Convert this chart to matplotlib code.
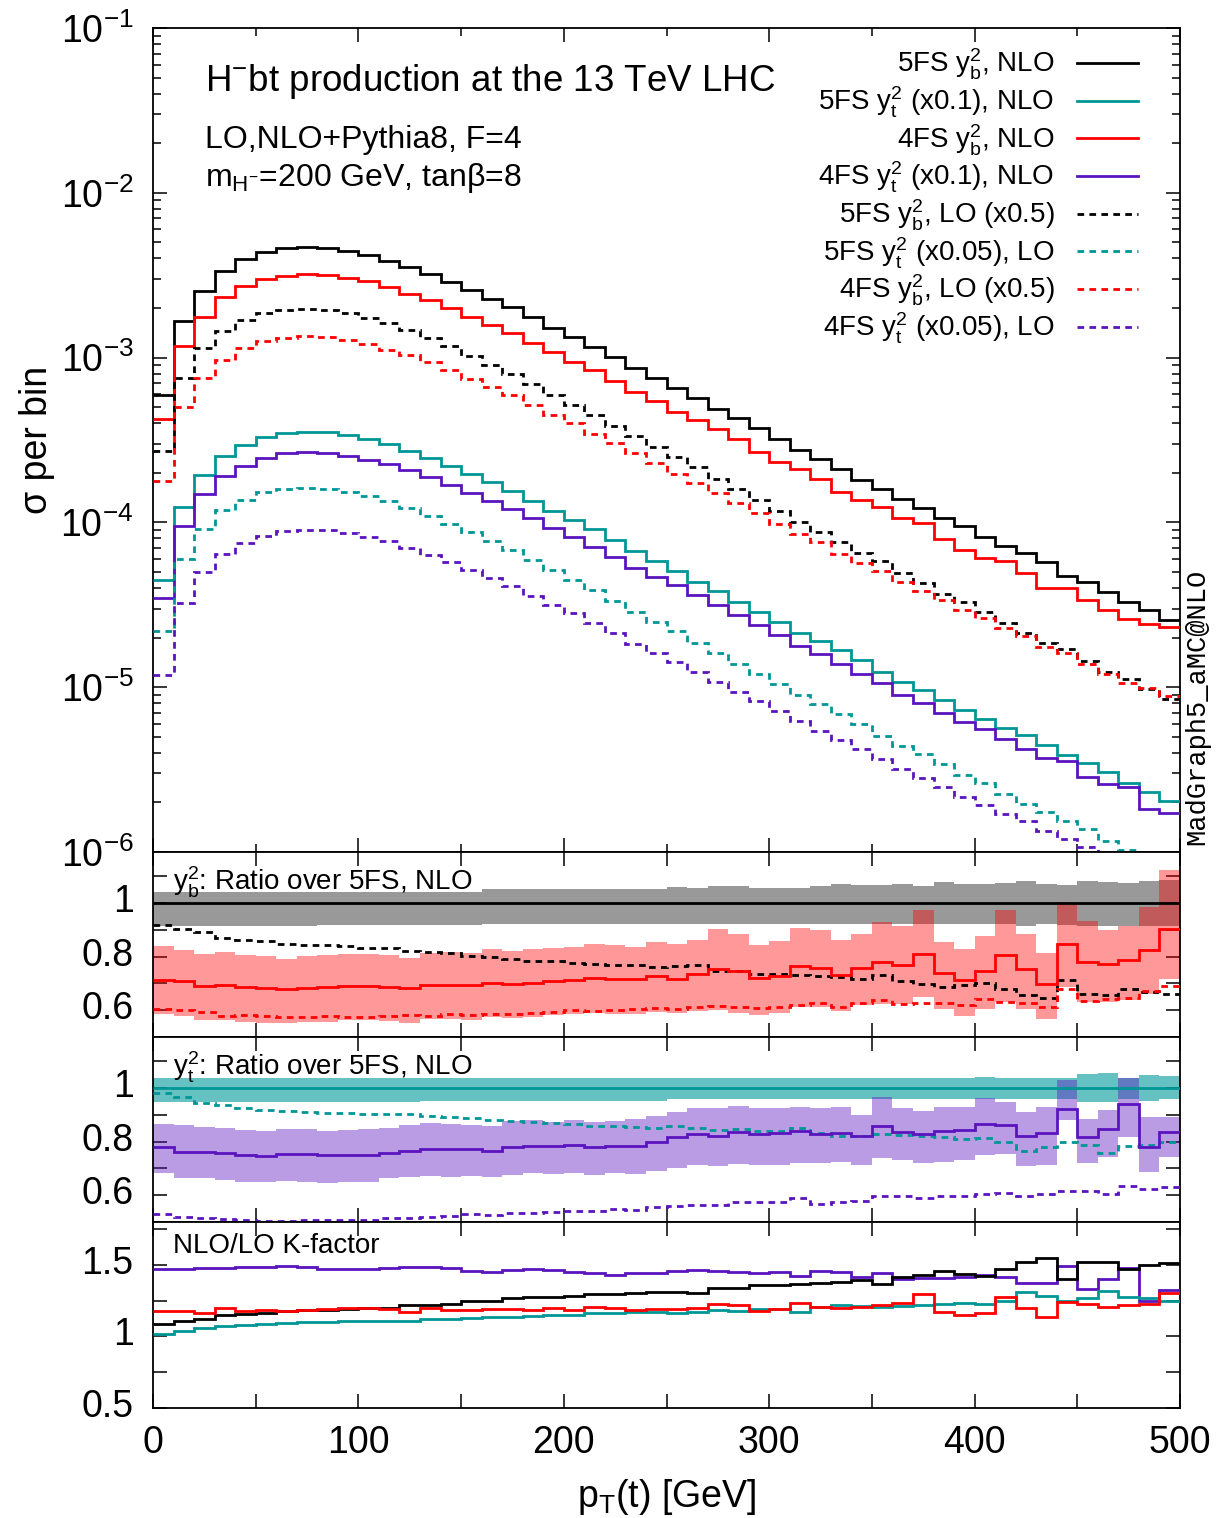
import numpy as np
import matplotlib
matplotlib.use("Agg")
import matplotlib.pyplot as plt
import matplotlib.transforms as mtransforms
from matplotlib.lines import Line2D
from matplotlib.ticker import FixedLocator, FixedFormatter, FuncFormatter, LogLocator, NullFormatter

plt.rcParams['font.family'] = ['Liberation Sans', 'DejaVu Sans']
plt.rcParams['mathtext.fontset'] = 'custom'
plt.rcParams['mathtext.rm'] = 'Liberation Sans'
plt.rcParams['mathtext.it'] = 'Liberation Sans:italic'
plt.rcParams['mathtext.bf'] = 'Liberation Sans:bold'
plt.rcParams['mathtext.sf'] = 'Liberation Sans'

# ---------------- data ----------------
bin_edges = np.arange(0, 510, 10)

# 5FS y_b^2 NLO cross section per bin
nlo_5fs_yb = np.array([
    5.93e-4, 1.67e-3, 2.55e-3, 3.35e-3, 3.94e-3, 4.37e-3, 4.60e-3, 4.69e-3, 4.60e-3, 4.44e-3,
    4.20e-3, 3.88e-3, 3.56e-3, 3.23e-3, 2.88e-3, 2.56e-3, 2.26e-3, 2.02e-3, 1.76e-3, 1.52e-3,
    1.33e-3, 1.16e-3, 1.005e-3, 8.69e-4, 7.52e-4, 6.51e-4, 5.66e-4, 4.90e-4, 4.28e-4, 3.74e-4,
    3.19e-4, 2.75e-4, 2.41e-4, 2.10e-4, 1.81e-4, 1.59e-4, 1.39e-4, 1.22e-4, 1.07e-4, 9.51e-5,
    8.15e-5, 7.22e-5, 6.49e-5, 5.72e-5, 4.75e-5, 4.35e-5, 3.78e-5, 3.29e-5, 2.94e-5, 2.56e-5])

# 5FS y_t^2 NLO cross section per bin (unscaled)
nlo_5fs_yt = np.array([
    4.47e-4, 1.245e-3, 1.94e-3, 2.53e-3, 2.95e-3, 3.31e-3, 3.50e-3, 3.55e-3, 3.52e-3, 3.39e-3,
    3.19e-3, 2.99e-3, 2.71e-3, 2.45e-3, 2.20e-3, 1.96e-3, 1.75e-3, 1.55e-3, 1.35e-3, 1.18e-3,
    1.035e-3, 9.08e-4, 7.82e-4, 6.73e-4, 5.83e-4, 5.09e-4, 4.36e-4, 3.83e-4, 3.27e-4, 2.87e-4,
    2.50e-4, 2.12e-4, 1.91e-4, 1.67e-4, 1.46e-4, 1.23e-4, 1.07e-4, 9.62e-5, 8.36e-5, 7.27e-5,
    6.41e-5, 5.63e-5, 5.13e-5, 4.46e-5, 3.88e-5, 3.49e-5, 3.07e-5, 2.63e-5, 2.32e-5, 2.05e-5])

# 4FS / 5FS ratios at NLO
ratio_4fs_yb = np.array([
    0.712, 0.708, 0.690, 0.695, 0.687, 0.684, 0.678, 0.683, 0.687, 0.689,
    0.690, 0.688, 0.682, 0.694, 0.694, 0.693, 0.701, 0.698, 0.701, 0.709,
    0.712, 0.720, 0.718, 0.715, 0.726, 0.718, 0.734, 0.755, 0.746, 0.720,
    0.728, 0.763, 0.759, 0.733, 0.759, 0.781, 0.770, 0.810, 0.738, 0.713,
    0.748, 0.806, 0.755, 0.697, 0.846, 0.778, 0.774, 0.786, 0.823, 0.901])
ratio_4fs_yt = np.array([
    0.781, 0.762, 0.762, 0.756, 0.750, 0.747, 0.754, 0.754, 0.749, 0.749,
    0.749, 0.759, 0.766, 0.771, 0.771, 0.771, 0.766, 0.779, 0.784, 0.784,
    0.787, 0.780, 0.785, 0.785, 0.800, 0.816, 0.828, 0.822, 0.835, 0.827,
    0.833, 0.841, 0.828, 0.833, 0.821, 0.858, 0.836, 0.828, 0.839, 0.843,
    0.866, 0.862, 0.822, 0.831, 0.922, 0.818, 0.846, 0.939, 0.781, 0.837])

# NLO/LO K-factors
kfac_5fs_yb = np.array([
    1.088, 1.109, 1.121, 1.149, 1.158, 1.167, 1.179, 1.184, 1.188, 1.193,
    1.200, 1.202, 1.218, 1.223, 1.230, 1.246, 1.251, 1.267, 1.274, 1.279,
    1.286, 1.297, 1.300, 1.304, 1.311, 1.310, 1.302, 1.337, 1.337, 1.360,
    1.360, 1.367, 1.376, 1.383, 1.395, 1.367, 1.414, 1.430, 1.458, 1.439,
    1.423, 1.469, 1.523, 1.551, 1.400, 1.518, 1.523, 1.472, 1.500, 1.516])
kfac_5fs_yt = np.array([
    1.019, 1.035, 1.058, 1.070, 1.079, 1.088, 1.095, 1.100, 1.102, 1.105,
    1.107, 1.109, 1.109, 1.119, 1.121, 1.126, 1.135, 1.139, 1.144, 1.149,
    1.153, 1.167, 1.167, 1.172, 1.174, 1.167, 1.174, 1.186, 1.179, 1.191,
    1.191, 1.174, 1.204, 1.221, 1.216, 1.209, 1.214, 1.221, 1.225, 1.237,
    1.228, 1.251, 1.309, 1.283, 1.251, 1.272, 1.318, 1.274, 1.272, 1.251])
kfac_4fs_yb = np.array([
    1.177, 1.177, 1.163, 1.202, 1.181, 1.186, 1.181, 1.186, 1.191, 1.198,
    1.198, 1.193, 1.170, 1.200, 1.186, 1.188, 1.195, 1.193, 1.188, 1.198,
    1.186, 1.207, 1.198, 1.186, 1.191, 1.191, 1.198, 1.225, 1.218, 1.181,
    1.191, 1.232, 1.209, 1.198, 1.209, 1.221, 1.235, 1.295, 1.174, 1.151,
    1.167, 1.279, 1.202, 1.139, 1.244, 1.225, 1.209, 1.221, 1.228, 1.307])
kfac_4fs_yt = np.array([
    1.472, 1.472, 1.476, 1.481, 1.483, 1.488, 1.495, 1.488, 1.474, 1.472,
    1.474, 1.479, 1.483, 1.488, 1.476, 1.460, 1.451, 1.462, 1.472, 1.462,
    1.453, 1.441, 1.432, 1.441, 1.441, 1.460, 1.465, 1.458, 1.453, 1.441,
    1.448, 1.423, 1.458, 1.448, 1.418, 1.441, 1.400, 1.407, 1.407, 1.414,
    1.430, 1.418, 1.376, 1.376, 1.495, 1.332, 1.402, 1.481, 1.251, 1.325])

# scale-uncertainty bands, normalised to the 5FS NLO central value
band_5fs_yb_hi = np.array([1.040] * 16 + [1.053] * 9 + [
    1.060, 1.057, 1.062, 1.062, 1.057, 1.057, 1.054, 1.062, 1.072, 1.066,
    1.066, 1.070, 1.062, 1.078, 1.072, 1.072, 1.075, 1.082, 1.069, 1.066,
    1.082, 1.078, 1.076, 1.082, 1.085])
band_5fs_yb_lo = np.array([0.913] * 8 + [0.917] * 8 + [0.920] * 9 + [
    0.923, 0.923, 0.923, 0.923, 0.923, 0.923, 0.923, 0.923, 0.920, 0.923,
    0.923, 0.923, 0.923, 0.923, 0.923, 0.923, 0.923, 0.913, 0.920, 0.917,
    0.913, 0.913, 0.913, 0.913, 0.913])
band_4fs_yb_hi = np.array([
    0.838, 0.826, 0.809, 0.817, 0.807, 0.803, 0.792, 0.802, 0.807, 0.810,
    0.811, 0.807, 0.796, 0.815, 0.817, 0.813, 0.827, 0.821, 0.827, 0.831,
    0.836, 0.848, 0.843, 0.836, 0.855, 0.848, 0.863, 0.902, 0.883, 0.845,
    0.857, 0.908, 0.898, 0.861, 0.883, 0.929, 0.913, 0.973, 0.855, 0.830,
    0.876, 0.975, 0.883, 0.814, 1.004, 0.932, 0.898, 0.914, 0.985, 1.122])
band_4fs_yb_lo = np.array([
    0.585, 0.578, 0.565, 0.565, 0.556, 0.554, 0.554, 0.556, 0.557, 0.562,
    0.565, 0.559, 0.552, 0.569, 0.569, 0.565, 0.575, 0.570, 0.575, 0.581,
    0.584, 0.588, 0.587, 0.587, 0.593, 0.590, 0.596, 0.602, 0.590, 0.581,
    0.590, 0.612, 0.612, 0.597, 0.618, 0.624, 0.624, 0.649, 0.606, 0.578,
    0.606, 0.631, 0.605, 0.567, 0.687, 0.631, 0.631, 0.637, 0.662, 0.718])
band_5fs_yt_hi = np.array([1.036] * 40 + [1.040, 1.036, 1.036, 1.036, 1.036,
                                          1.052, 1.055, 1.038, 1.048, 1.045])
band_5fs_yt_lo = np.array([0.947] * 13 + [0.952] * 12 + [0.960] * 20 + [
    0.949, 0.949, 0.960, 0.953, 0.960])
band_4fs_yt_hi = np.array([
    0.866, 0.861, 0.853, 0.849, 0.843, 0.841, 0.847, 0.846, 0.841, 0.843,
    0.846, 0.852, 0.862, 0.868, 0.866, 0.862, 0.858, 0.878, 0.881, 0.874,
    0.881, 0.874, 0.878, 0.883, 0.895, 0.909, 0.924, 0.924, 0.933, 0.924,
    0.927, 0.930, 0.927, 0.930, 0.899, 0.968, 0.924, 0.914, 0.930, 0.930,
    0.961, 0.949, 0.909, 0.930, 1.030, 0.883, 0.918, 1.038, 0.893, 0.893])
band_4fs_yt_lo = np.array([
    0.684, 0.665, 0.663, 0.657, 0.650, 0.650, 0.653, 0.649, 0.647, 0.650,
    0.650, 0.663, 0.669, 0.671, 0.669, 0.671, 0.669, 0.675, 0.682, 0.679,
    0.684, 0.675, 0.682, 0.679, 0.690, 0.700, 0.713, 0.709, 0.715, 0.713,
    0.713, 0.721, 0.721, 0.725, 0.713, 0.738, 0.731, 0.721, 0.725, 0.731,
    0.750, 0.754, 0.710, 0.713, 0.880, 0.719, 0.741, 0.816, 0.688, 0.744])

legend_labels = [
    r'5FS y$_\mathrm{b}^2$, NLO',
    r'5FS y$_\mathrm{t}^2$ (x0.1), NLO',
    r'4FS y$_\mathrm{b}^2$, NLO',
    r'4FS y$_\mathrm{t}^2$ (x0.1), NLO',
    r'5FS y$_\mathrm{b}^2$, LO (x0.5)',
    r'5FS y$_\mathrm{t}^2$ (x0.05), LO',
    r'4FS y$_\mathrm{b}^2$, LO (x0.5)',
    r'4FS y$_\mathrm{t}^2$ (x0.05), LO',
]

# derived quantities
nlo_4fs_yb = nlo_5fs_yb * ratio_4fs_yb
nlo_4fs_yt = nlo_5fs_yt * ratio_4fs_yt
lo_5fs_yb = nlo_5fs_yb / kfac_5fs_yb
lo_5fs_yt = nlo_5fs_yt / kfac_5fs_yt
lo_4fs_yb = nlo_4fs_yb / kfac_4fs_yb
lo_4fs_yt = nlo_4fs_yt / kfac_4fs_yt

# ---------------- style ----------------
C_BLACK = '#000000'
C_TEAL = '#009696'
C_RED = '#ff0000'
C_PURP = '#5a14be'
LW = 2.0
DASH = (0, (2.4, 1.9))

fig = plt.figure(figsize=(12.2, 15.18), dpi=100)
H = 1518.0
L, W = 153 / 1220, 1027 / 1220


def fy(px):
    return 1 - px / H


ax0 = fig.add_axes([L, fy(852), W, (852 - 28) / H])
ax1 = fig.add_axes([L, fy(1037), W, 185 / H], sharex=ax0)
ax2 = fig.add_axes([L, fy(1222), W, 185 / H], sharex=ax0)
ax3 = fig.add_axes([L, fy(1408), W, 186 / H], sharex=ax0)


def line(ax, vals, color, ls='-', z=3):
    ax.stairs(vals, bin_edges, baseline=None, color=color, lw=LW, linestyle=ls, zorder=z)


def band(ax, lo, hi, color, alpha, z=1):
    ax.stairs(hi, bin_edges, baseline=lo, fill=True, color=color, alpha=alpha, lw=0, zorder=z)


# main panel
line(ax0, nlo_5fs_yb, C_BLACK)
line(ax0, 0.1 * nlo_5fs_yt, C_TEAL)
line(ax0, nlo_4fs_yb, C_RED)
line(ax0, 0.1 * nlo_4fs_yt, C_PURP)
line(ax0, 0.5 * lo_5fs_yb, C_BLACK, DASH)
line(ax0, 0.05 * lo_5fs_yt, C_TEAL, DASH)
line(ax0, 0.5 * lo_4fs_yb, C_RED, DASH)
line(ax0, 0.05 * lo_4fs_yt, C_PURP, DASH)
ax0.set_yscale('log')
ax0.set_ylim(1e-6, 1e-1)
ax0.yaxis.set_major_locator(LogLocator(base=10, numticks=10))
ax0.yaxis.set_minor_locator(LogLocator(base=10, subs=np.arange(2, 10), numticks=20))
ax0.yaxis.set_major_formatter(FuncFormatter(lambda v, p: r'$10^{%d}$' % int(round(np.log10(v)))))
ax0.yaxis.set_minor_formatter(NullFormatter())

handles = [
    Line2D([], [], color=C_BLACK, lw=LW), Line2D([], [], color=C_TEAL, lw=LW),
    Line2D([], [], color=C_RED, lw=LW), Line2D([], [], color=C_PURP, lw=LW),
    Line2D([], [], color=C_BLACK, lw=LW, ls=DASH), Line2D([], [], color=C_TEAL, lw=LW, ls=DASH),
    Line2D([], [], color=C_RED, lw=LW, ls=DASH), Line2D([], [], color=C_PURP, lw=LW, ls=DASH),
]
ax0.legend(handles, legend_labels, loc='upper right', bbox_to_anchor=(0.959, 0.977),
           frameon=False, fontsize=20, markerfirst=False, handlelength=2.2,
           handletextpad=0.8, labelspacing=0.085, borderpad=0, borderaxespad=0)

ax0.text(0.0506, 0.935, r'H$^{-}$bt production at the 13 TeV LHC', transform=ax0.transAxes,
         fontsize=26.5, va='center', ha='left')
ax0.text(0.0506, 0.864, 'LO,NLO+Pythia8, F=4', transform=ax0.transAxes,
         fontsize=23, va='center', ha='left')
ax0.text(0.0506, 0.818, r'm$_{\mathrm{H}^{-}}$=200 GeV, tanβ=8', transform=ax0.transAxes,
         fontsize=23, va='center', ha='left')
ax0.set_ylabel('σ per bin', fontsize=27)
ax0.yaxis.set_label_coords(-0.095, 0.5)

# ratio panel y_b
band(ax1, band_5fs_yb_lo, band_5fs_yb_hi, '#999999', 1.0, z=1)
band(ax1, band_4fs_yb_lo, band_4fs_yb_hi, '#ff0000', 0.4, z=2)
line(ax1, nlo_5fs_yb / nlo_5fs_yb, C_BLACK)
line(ax1, ratio_4fs_yb, C_RED, z=4)
line(ax1, 1.0 / kfac_5fs_yb, C_BLACK, DASH)
line(ax1, ratio_4fs_yb / kfac_4fs_yb, C_RED, DASH)
ax1.text(0.0195, 0.838, r'y$_\mathrm{b}^2$: Ratio over 5FS, NLO', transform=ax1.transAxes,
         fontsize=20, va='center', ha='left', zorder=6)

# ratio panel y_t
band(ax2, band_5fs_yt_lo, band_5fs_yt_hi, '#66c2c2', 1.0, z=1)
band(ax2, band_4fs_yt_lo, band_4fs_yt_hi, '#5a14be', 0.42, z=2)
line(ax2, nlo_5fs_yt / nlo_5fs_yt, C_TEAL)
line(ax2, ratio_4fs_yt, C_PURP, z=4)
line(ax2, 1.0 / kfac_5fs_yt, C_TEAL, DASH)
line(ax2, ratio_4fs_yt / kfac_4fs_yt, C_PURP, DASH)
ax2.text(0.0195, 0.838, r'y$_\mathrm{t}^2$: Ratio over 5FS, NLO', transform=ax2.transAxes,
         fontsize=20, va='center', ha='left', zorder=6)

# K-factor panel
line(ax3, kfac_4fs_yt, C_PURP)
line(ax3, kfac_5fs_yb, C_BLACK)
line(ax3, kfac_5fs_yt, C_TEAL)
line(ax3, kfac_4fs_yb, C_RED)
ax3.text(0.0195, 0.871, 'NLO/LO K-factor', transform=ax3.transAxes,
         fontsize=20, va='center', ha='left')

for ax in (ax1, ax2):
    ax.set_ylim(0.5, 1.19)
    ax.yaxis.set_major_locator(FixedLocator([0.6, 0.7, 0.8, 0.9, 1.0, 1.1]))
    ax.yaxis.set_major_formatter(FixedFormatter(['0.6', '', '0.8', '', '1', '']))
ax3.set_ylim(0.5, 1.8)
ax3.yaxis.set_major_locator(FixedLocator([0.5, 0.75, 1.0, 1.25, 1.5, 1.75]))
ax3.yaxis.set_major_formatter(FixedFormatter(['0.5', '', '1', '', '1.5', '']))

ax0.set_xlim(0, 500)
for ax in (ax0, ax1, ax2, ax3):
    ax.xaxis.set_major_locator(FixedLocator([0, 100, 200, 300, 400, 500]))
    ax.xaxis.set_minor_locator(FixedLocator([50, 150, 250, 350, 450]))
    ax.tick_params(which='both', direction='in', top=True, right=True, width=1.1)
    ax.tick_params(which='major', length=10, labelsize=27)
    ax.tick_params(which='minor', length=6)
    ax.tick_params(axis='y', which='both', pad=14)
    ax.tick_params(axis='x', which='both', pad=12)
    for s in ax.spines.values():
        s.set_linewidth(1.3)
for ax in (ax0, ax1, ax2):
    ax.tick_params(axis='x', labelbottom=False)
for ax in (ax1, ax2, ax3):
    ax.tick_params(axis='x', which='minor', length=10)

ax3.set_xlabel(r'p$_\mathrm{T}$(t) [GeV]', fontsize=27)
ax3.xaxis.set_label_coords(0.5, -0.37)

fig.canvas.draw()
shift_up = mtransforms.ScaledTranslation(0, 5 / 100.0, fig.dpi_scale_trans)
for ax in (ax1, ax2, ax3):
    for lab in ax.get_yticklabels():
        lab.set_transform(lab.get_transform() + shift_up)

fig.text(1197 / 1220, fy(845), 'MadGraph5_aMC@NLO', rotation=90, ha='center', va='bottom',
         fontsize=19.5, family=['Liberation Mono', 'DejaVu Sans Mono'])

fig.savefig('out.png', dpi=100)
